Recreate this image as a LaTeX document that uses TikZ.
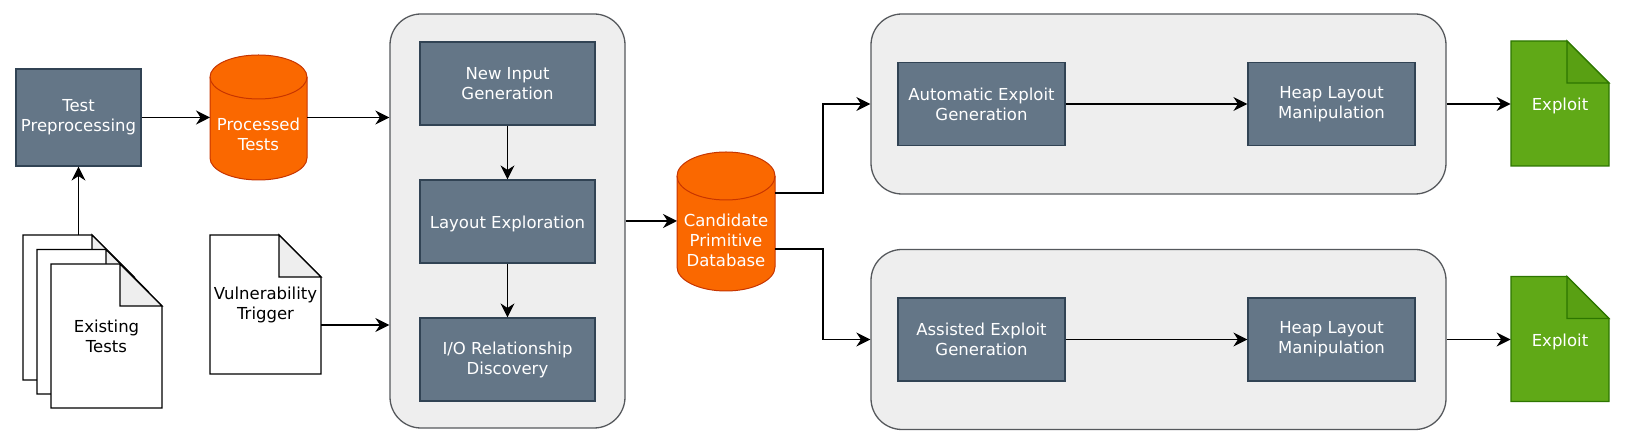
\documentclass[tikz,border=0pt]{standalone}
\usepackage{fontspec}
\setmainfont{DejaVu Sans}
\usepackage{xcolor}
\usepackage{tikz}
\usetikzlibrary{shapes, arrows.meta, positioning}
\definecolor{slatefill}{HTML}{647687}
\definecolor{slateline}{HTML}{314354}
\definecolor{orangefill}{HTML}{FA6800}
\definecolor{orangeline}{HTML}{C73500}
\definecolor{greenfill}{HTML}{60A917}
\definecolor{greenline}{HTML}{2D7600}
\definecolor{greenfold}{HTML}{59A013}
\definecolor{groupfill}{HTML}{EEEEEE}
\definecolor{groupline}{HTML}{55585C}
\tikzset{
    every node/.style={font=\fontsize{8.25}{10}\selectfont, align=center, inner sep=0pt,
        execute at begin node={\rule{0pt}{8.7pt}}},
    procbox/.style={draw=slateline, fill=slatefill, text=white, line width=0.6pt},
    group/.style={draw=groupline, fill=groupfill, line width=0.65pt, rounded corners=15.5pt},
    dbtext/.style={text=white, minimum width=48.5pt},
    dbline/.style={draw=orangeline, line width=0.5pt},
    link/.style={draw=black, line width=0.7pt, -{Stealth[length=7pt,width=7pt]}},
}
% Hoja con la esquina doblada: x0, y0, x1, y1, borde, relleno, doblez
\newcommand{\docshape}[7]{
    \draw[draw=#5, fill=#6, line width=0.65pt, line join=miter] (#1,#2) -- (#3-42,#2) -- (#3,#2+42) -- (#3,#4) -- (#1,#4) -- cycle;
    \draw[draw=#5, fill=#7, line width=0.65pt, line join=miter] (#3-42,#2) -- (#3,#2+42) -- (#3-42,#2+42) -- cycle;
}
% Cilindro: x0, centro x, x1, arriba, abajo, radio vertical
\newcommand{\dbshape}[6]{
    \draw[dbline, fill=orangefill] (#1,#4+#6) .. controls (#1,#4+0.45*#6) and (#2-27,#4) .. (#2,#4) .. controls (#2+27,#4) and (#3,#4+0.45*#6) .. (#3,#4+#6)
        -- (#3,#5-#6) .. controls (#3,#5-0.45*#6) and (#2+27,#5) .. (#2,#5) .. controls (#2-27,#5) and (#1,#5-0.45*#6) .. (#1,#5-#6) -- cycle;
    \draw[dbline] (#1,#4+#6) .. controls (#1,#4+1.55*#6) and (#2-27,#4+2*#6) .. (#2,#4+2*#6) .. controls (#2+27,#4+2*#6) and (#3,#4+1.55*#6) .. (#3,#4+#6);
}
\begin{document}
\begin{tikzpicture}[x=0.5pt,y=-0.5pt]
    \useasboundingbox (0,0) rectangle (1629,442);
    % Preprocesado y pruebas
    \node[procbox, minimum width=62.5pt, minimum height=48.5pt] (prep) at (78.5,117.5) {Test\\Preprocessing};
    \dbshape{210}{258.5}{307}{55}{180}{22}
    \node[dbtext] (proc) at (258.5,134) {Processed\\Tests};
    \coordinate (procin) at (210,117.5);
    \coordinate (procout) at (307,117.5);
    \foreach \d in {0,1,2} {
        \docshape{23+14*\d}{235+14.5*\d}{134+14*\d}{380+14*\d}{black}{white}{groupfill}
    }
    \node[minimum width=55.5pt, minimum height=72.5pt] (back) at (78.5,307.5) {};
    \node[minimum width=55.5pt, minimum height=72pt] (existing) at (106.5,336.5) {Existing\\Tests};
    \docshape{210}{235}{321}{374}{black}{white}{groupfill}
    \node[minimum width=55.5pt, minimum height=69.5pt] (vuln) at (265.5,304.5) {Vulnerability\\Trigger};
    \coordinate (vulnout) at (321,325);
    % Grupo central
    \node[group, minimum width=117.5pt, minimum height=207pt] (explore) at (507.5,221) {};
    \node[procbox, minimum width=87.5pt, minimum height=41.5pt] (newin) at (507.5,83.5) {New Input\\Generation};
    \node[procbox, minimum width=87.5pt, minimum height=41.5pt] (layout) at (507.5,221.5) {Layout Exploration};
    \node[procbox, minimum width=87.5pt, minimum height=41.5pt] (iorel) at (507.5,359.5) {I/O Relationship\\Discovery};
    \dbshape{677}{726}{775}{152}{291}{24}
    \node[dbtext] (cand) at (726,240) {Candidate\\Primitive\\Database};
    \coordinate (candin) at (677,221);
    \coordinate (candtop) at (775,193);
    \coordinate (candlow) at (775,249);
    % Las dos salidas
    \foreach \n/\yc/\txt in {auto/104/{Automatic Exploit\\Generation}, assist/339.5/{Assisted Exploit\\Generation}} {
        \node[group, minimum width=287.5pt, minimum height=90pt] (grp\n) at (1158.5,\yc) {};
        \node[procbox, minimum width=83.5pt, minimum height=41.5pt] (gen\n) at (981.5,\yc) {\txt};
        \node[procbox, minimum width=83.5pt, minimum height=41.5pt] (heap\n) at (1331.5,\yc) {Heap Layout\\Manipulation};
        \docshape{1511}{\yc-63}{1609}{\yc+62}{greenline}{greenfill}{greenfold}
        \node[text=white, minimum width=49pt, minimum height=62.5pt] (exp\n) at (1560,\yc) {Exploit};
        \draw[link] (gen\n) -- (heap\n);
        \draw[link] (grp\n) -- (exp\n);
    }
    % Conexiones
    \draw[link] (back.north) -- (prep.south);
    \draw[link] (prep.east |- procin) -- (procin);
    \draw[link] (procout) -- (procout -| explore.west);
    \draw[link] (vulnout) -- (vulnout -| explore.west);
    \draw[link] (newin) -- (layout);
    \draw[link] (layout) -- (iorel);
    \draw[link] (explore.east) -- (candin);
    \draw[link] (candtop) -- (823,193) |- (grpauto.west);
    \draw[link] (candlow) -- (823,249) |- (grpassist.west);
\end{tikzpicture}
\end{document}
